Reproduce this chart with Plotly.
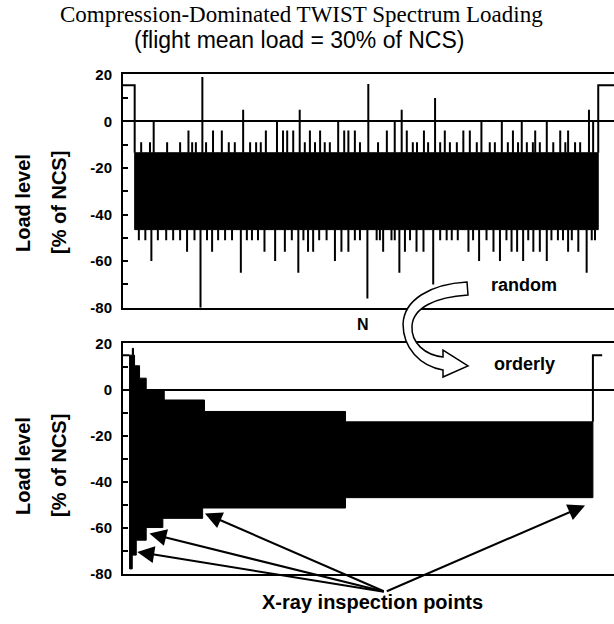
import plotly.graph_objects as go

W, H = 614, 624

# ---------------- data ----------------
# random (TWIST-like) sequence, top panel; N axis in arbitrary sequence units 0..1000
BAND_TOP = -13.5          # upper edge of the dense band of small cycles
BAND_BOT = -46.5          # lower edge of the dense band
GAG_LEVEL = 15.5          # ground-air-ground level
SEQ_START = 0
SEQ_END = 1000

UP_POS = [14, 33, 41, 70, 98, 116, 124, 132, 146, 154, 169, 188, 203, 216, 234, 249, 262, 272,
          283, 307, 320, 329, 342, 356, 367, 378, 389, 400, 410, 421, 439, 452, 461, 475, 486,
          504, 525, 544, 561, 576, 587, 600, 609, 624, 633, 648, 659, 669, 680, 695, 709, 723,
          738, 748, 766, 777, 792, 805, 816, 827, 835, 846, 859, 864, 874, 889, 903, 918, 929,
          935, 950, 961, 980, 989]
UP_LVL = [-9, -9, 0, -9, -9, -4, -9, -9, 19, -9, -4, -4, -9, -9, 5, -9, -9, -9,
          -4, 0, -4, -4, -4, 5, -9, -4, -9, -4, -9, -9, 0, -4, -4, -4, -9,
          16, -9, -4, 0, 5, -4, -9, -9, -4, -9, 10, -9, -4, -9, -9, -4, -4,
          -9, 0, -9, -9, 0, -9, -4, -9, 0, -9, -9, -4, -9, 0, -9, -4, -9,
          -4, -9, -9, 5, 0]

LO_POS = [9, 23, 36, 50, 68, 83, 98, 113, 129, 142, 156, 167, 180, 195, 210, 229, 242, 253,
          266, 280, 303, 324, 339, 353, 364, 374, 385, 398, 414, 432, 446, 461, 475, 486, 502,
          522, 529, 536, 554, 561, 571, 583, 594, 608, 623, 644, 659, 673, 684, 697, 720, 730,
          743, 759, 774, 788, 802, 813, 825, 838, 849, 860, 874, 889, 899, 913, 924, 935, 943,
          957, 975, 986, 993]
LO_LVL = [-51, -51, -60, -51, -51, -51, -51, -56, -51, -80, -51, -56, -51, -51, -51, -65, -51, -51,
          -51, -56, -60, -56, -51, -65, -51, -56, -56, -51, -51, -60, -56, -56, -51, -51, -76,
          -51, -51, -56, -51, -51, -65, -56, -51, -56, -56, -70, -51, -51, -51, -51, -56, -51,
          -60, -51, -56, -60, -51, -56, -56, -60, -51, -56, -56, -60, -51, -51, -51, -56, -51,
          -56, -65, -51, -51]

# ordered sequence, bottom panel: step envelopes (start position, level)
ORD_UP_X = [0, 6, 8.5, 10.8, 21.6, 36, 75, 162, 467]
ORD_UP_Y = [15, 18, 15, 10.4, 5, 0, -4.5, -9.5, -14]
ORD_LO_X = [0, 5.8, 14.5, 36, 72, 158, 467]
ORD_LO_Y = [-78, -72, -65.5, -60, -56, -51.5, -47]
ORD_END = 1002
ORD_GAG_LEVEL = 15
ORD_GAG_END = 1022

# X-ray inspection points (position, level) and common label anchor
XRAY_POS = [16.6, 43, 163, 985]
XRAY_LVL = [-70.6, -62.6, -53.9, -50.4]
XRAY_TAIL = (553, -88)

Y_TICKS = [-80, -70, -60, -50, -40, -30, -20, -10, 0, 10, 20]
Y_TICKTEXT = ["-80", "", "-60", "", "-40", "", "-20", "", "0", "", "20"]

# ---------------- layout constants ----------------
TOP_XRANGE = [-25.2, 1034]
BOT_XRANGE = [-14.2, 1047.6]
YRANGE = [-80, 20.3]
X_DOMAIN = [123 / W, 1.0]
TOP_DOMAIN = [1 - 307.7 / H, 1 - 74 / H]
BOT_DOMAIN = [1 - 573.5 / H, 1 - 343 / H]

SANS = "Liberation Sans"
SERIF = "Liberation Serif"

fig = go.Figure()

# ---- top panel: random sequence ----
fig.add_trace(go.Scatter(
    x=[SEQ_START, SEQ_END, SEQ_END, SEQ_START, SEQ_START],
    y=[BAND_TOP, BAND_TOP, BAND_BOT, BAND_BOT, BAND_TOP],
    fill="toself", fillcolor="black", mode="lines",
    line=dict(color="black", width=1), xaxis="x", yaxis="y", hoverinfo="skip"))

sx, sy = [], []
for p, l in zip(UP_POS, UP_LVL):
    sx += [p, p, None]
    sy += [BAND_TOP, l, None]
for p, l in zip(LO_POS, LO_LVL):
    sx += [p, p, None]
    sy += [BAND_BOT, l, None]
fig.add_trace(go.Scatter(x=sx, y=sy, mode="lines", line=dict(color="black", width=2),
                         xaxis="x", yaxis="y", hoverinfo="skip"))

fig.add_trace(go.Scatter(
    x=[TOP_XRANGE[0], SEQ_START, SEQ_START, None, SEQ_END, SEQ_END, TOP_XRANGE[1]],
    y=[GAG_LEVEL, GAG_LEVEL, BAND_TOP, None, BAND_TOP, GAG_LEVEL, GAG_LEVEL],
    mode="lines", line=dict(color="black", width=2), xaxis="x", yaxis="y", hoverinfo="skip"))

# ---- bottom panel: ordered sequence ----
px_, py_ = [], []
for i, (x0, y0) in enumerate(zip(ORD_UP_X, ORD_UP_Y)):
    x1 = ORD_UP_X[i + 1] if i + 1 < len(ORD_UP_X) else ORD_END
    px_ += [x0, x1]
    py_ += [y0, y0]
lo = []
for i, (x0, y0) in enumerate(zip(ORD_LO_X, ORD_LO_Y)):
    x1 = ORD_LO_X[i + 1] if i + 1 < len(ORD_LO_X) else ORD_END
    lo += [(x0, y0), (x1, y0)]
for x, y in reversed(lo):
    px_.append(x)
    py_.append(y)
px_.append(px_[0])
py_.append(py_[0])
fig.add_trace(go.Scatter(x=px_, y=py_, fill="toself", fillcolor="black", mode="lines",
                         line=dict(color="black", width=1), xaxis="x2", yaxis="y2",
                         hoverinfo="skip"))
fig.add_trace(go.Scatter(
    x=[BOT_XRANGE[0], ORD_UP_X[0], None, ORD_END, ORD_END, ORD_GAG_END],
    y=[ORD_GAG_LEVEL, ORD_GAG_LEVEL, None, ORD_UP_Y[-1], ORD_GAG_LEVEL, ORD_GAG_LEVEL],
    mode="lines", line=dict(color="black", width=2), xaxis="x2", yaxis="y2", hoverinfo="skip"))

# ---- axes ----
xcommon = dict(showline=True, mirror=True, linecolor="black", linewidth=2, showticklabels=False,
               ticks="", showgrid=False, zeroline=False, automargin=False, domain=X_DOMAIN)
ycommon = dict(showline=True, mirror=False, linecolor="black", linewidth=2,
               tickvals=Y_TICKS, ticktext=Y_TICKTEXT, ticks="inside", ticklen=5, tickwidth=1.5,
               tickcolor="black", showgrid=False, zeroline=True, zerolinecolor="black",
               zerolinewidth=2, range=YRANGE, automargin=False, ticklabelstandoff=6,
               tickfont=dict(family=SANS, size=15, color="black", weight="bold"))
fig.update_layout(
    xaxis=dict(xcommon, range=TOP_XRANGE, anchor="y"),
    yaxis=dict(ycommon, domain=TOP_DOMAIN, anchor="x"),
    xaxis2=dict(xcommon, range=BOT_XRANGE, anchor="y2"),
    yaxis2=dict(ycommon, domain=BOT_DOMAIN, anchor="x2"),
)

# ---- texts ----
def txt(s, x, y, size, family=SANS, bold=True, angle=0):
    fig.add_annotation(text=s, x=x / W, y=1 - y / H, xref="paper", yref="paper",
                       showarrow=False, textangle=angle, xanchor="center", yanchor="middle",
                       font=dict(family=family, size=size, color="black",
                                 weight="bold" if bold else "normal"))

txt("Compression-Dominated TWIST Spectrum Loading", 301, 14, 23, SERIF, bold=False)
txt("(flight mean load = 30% of NCS)", 299, 40, 23, SANS, bold=False)
for cy in (203, 466):
    txt("Load level", 23, cy, 20, angle=-90)
    txt("[% of NCS]", 59, cy, 20, angle=-90)
txt("random", 524, 285, 18)
txt("orderly", 524, 364, 18)
txt("N", 363, 324, 16)
txt("X-ray inspection points", 372, 602, 20)

# ---- X-ray arrows ----
for p, l in zip(XRAY_POS, XRAY_LVL):
    fig.add_annotation(x=p, y=l, xref="x2", yref="y2", ax=XRAY_TAIL[0], ay=XRAY_TAIL[1],
                       axref="x2", ayref="y2", text="", showarrow=True, arrowhead=2,
                       arrowsize=1.7, arrowwidth=2, arrowcolor="black", standoff=0,
                       startstandoff=0)

# ---- hollow curved arrow between panels ----
def P(x, y):
    return f"{x / W:.4f},{1 - y / H:.4f}"

path = ("M " + P(467, 282) + " C " + P(430, 284) + " " + P(404, 300) + " " + P(403, 324) +
        " C " + P(403, 348) + " " + P(420, 366) + " " + P(443, 370) +
        " L " + P(443, 377) + " L " + P(468, 366) + " L " + P(443, 350) + " L " + P(443, 357) +
        " C " + P(425, 355) + " " + P(411, 343) + " " + P(412, 326) +
        " C " + P(413, 308) + " " + P(435, 297) + " " + P(468, 295) + " Z")
fig.add_shape(type="path", path=path, xref="paper", yref="paper", layer="above",
              fillcolor="white", line=dict(color="black", width=1.5))

fig.update_layout(width=W, height=H, margin=dict(l=0, r=0, t=0, b=0),
                  paper_bgcolor="white", plot_bgcolor="white", showlegend=False,
                  template="none")

fig.write_html("out.html", config={"displayModeBar": False},
               post_script="document.body.style.margin='0';"
                           "document.body.style.overflow='hidden';")
